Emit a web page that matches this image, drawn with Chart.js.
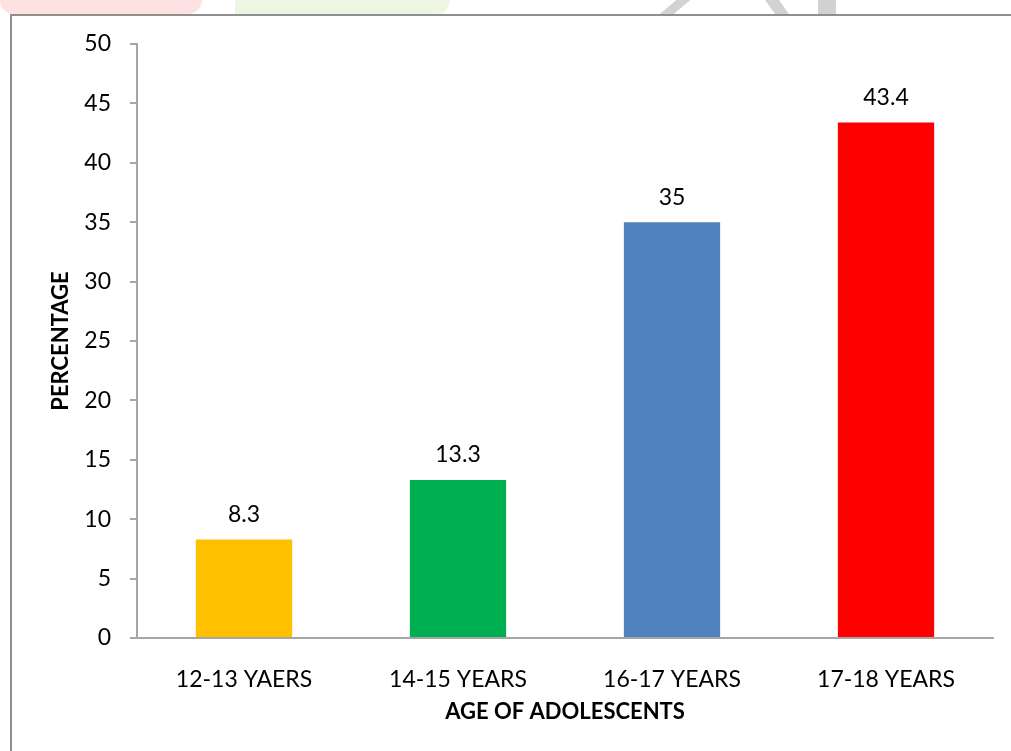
<!DOCTYPE html>
<html>
<head>
<meta charset="utf-8">
<script src="https://cdn.jsdelivr.net/npm/chart.js@4.4.1/dist/chart.umd.min.js"></script>
<style>
  body { margin: 0; background: #fff; overflow: hidden; }
  #wrap { position: relative; width: 1011px; height: 751px; }
  /* faint page marks above the chart frame */
  .band { position: absolute; top: 0; height: 14px; }
  #pink { left: 0; width: 202px; background: #fee1e1; border-radius: 0 0 40px 40px; }
  #green { left: 235px; width: 215px; background: #ecf6e2; border-radius: 0 0 30px 0; }
  .stroke { position: absolute; top: 0; height: 14px; background: #d2d2d2; }
  #s1 { left: 668px; width: 14px; transform: skewX(-50deg); }
  #s2 { left: 770px; width: 14px; transform: skewX(35deg); }
  #s3 { left: 818px; width: 18px; }
  #frame { position: absolute; left: 10px; top: 14px; right: 0; bottom: 0;
           border-left: 2px solid #8f8f8f; border-top: 2px solid #8f8f8f; }
  canvas { position: absolute; left: 0; top: 0; }
</style>
</head>
<body>
<div id="wrap">
  <div class="band" id="pink"></div>
  <div class="band" id="green"></div>
  <div class="stroke" id="s1"></div>
  <div class="stroke" id="s2"></div>
  <div class="stroke" id="s3"></div>
  <div id="frame"></div>
  <canvas id="ageChart" width="1011" height="751"></canvas>
</div>
<script>
const ageGroups = ['12-13 YAERS', '14-15 YEARS', '16-17 YEARS', '17-18 YEARS'];
const percentages = [8.3, 13.3, 35, 43.4];
const barColors = ['#FFC000', '#00B050', '#4F81BD', '#FF0000'];

const FONT = 'Lato, "Open Sans", sans-serif';
const AXIS_GRAY = '#a6a6a6';

// writes each value just above its bar
const valueLabels = {
    id: 'valueLabels',
    afterDatasetsDraw(chart) {
        const ctx = chart.ctx;
        const meta = chart.getDatasetMeta(0);
        ctx.save();
        ctx.font = '23px ' + FONT;
        ctx.fillStyle = '#000';
        ctx.textAlign = 'center';
        ctx.textBaseline = 'middle';
        meta.data.forEach((bar, i) => {
            ctx.fillText(String(percentages[i]), bar.x, bar.y - 25);
        });
        ctx.restore();
    }
};

const ctx = document.getElementById('ageChart').getContext('2d');
new Chart(ctx, {
    type: 'bar',
    data: {
        labels: ageGroups,
        datasets: [{
            data: percentages,
            backgroundColor: barColors,
            barPercentage: 0.45,
            categoryPercentage: 1
        }]
    },
    options: {
        responsive: false,
        animation: false,
        events: [],
        layout: { padding: { left: 48, top: 44, right: 18, bottom: 26 } },
        plugins: {
            legend: { display: false },
            tooltip: { enabled: false }
        },
        scales: {
            x: {
                grid: { display: false },
                border: { color: AXIS_GRAY, width: 2 },
                ticks: { color: '#000', font: { family: FONT, size: 23 }, padding: 20 },
                title: {
                    display: true,
                    text: 'AGE OF ADOLESCENTS',
                    color: '#000',
                    font: { family: FONT, size: 22, weight: 'bold' },
                    padding: 0
                },
                afterFit(scale) { scale.height = 87; }
            },
            y: {
                min: 0,
                max: 50,
                ticks: { stepSize: 5, color: '#000', font: { family: FONT, size: 23 }, padding: 19 },
                grid: {
                    drawOnChartArea: false,
                    drawTicks: true,
                    tickLength: 7,
                    color: AXIS_GRAY,
                    lineWidth: 2
                },
                border: { color: AXIS_GRAY, width: 2 },
                title: {
                    display: true,
                    text: 'PERCENTAGE',
                    color: '#000',
                    font: { family: FONT, size: 22, weight: 'bold' },
                    padding: 0
                },
                afterFit(scale) { scale.width = 89; }
            }
        }
    },
    plugins: [valueLabels]
});
</script>
</body>
</html>
